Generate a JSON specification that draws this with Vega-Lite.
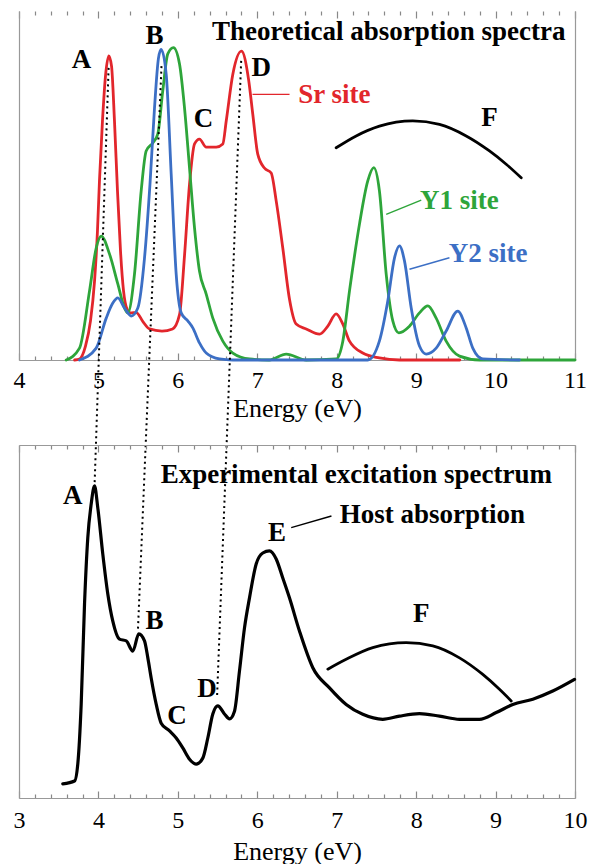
{
  "$schema": "https://vega.github.io/schema/vega-lite/v6.json",
  "background": "white",
  "padding": {"left": 13, "top": 10, "right": 5, "bottom": 0},
  "bounds": "flush",
  "spacing": 85,
  "config": {
    "view": {"stroke": null},
    "axis": {"grid": false, "domainColor": "#999999", "tickColor": "#888888", "tickWidth": 1.2, "domainWidth": 1.2, "labelFont": "Liberation Serif", "titleFont": "Liberation Serif", "labelColor": "#000000", "titleColor": "#000000"},
    "text": {"font": "Liberation Serif"}
  },
  "datasets": {
    "theory": [
      {"site": "Sr", "e": 4.70, "v": 0}, {"site": "Sr", "e": 4.762, "v": 0.3}, {"site": "Sr", "e": 4.837, "v": 4.0}, {"site": "Sr", "e": 4.900, "v": 11.2}, {"site": "Sr", "e": 4.951, "v": 22.6}, {"site": "Sr", "e": 4.988, "v": 37.0}, {"site": "Sr", "e": 5.013, "v": 51.3}, {"site": "Sr", "e": 5.051, "v": 68.5}, {"site": "Sr", "e": 5.089, "v": 81.4}, {"site": "Sr", "e": 5.131, "v": 87.1}, {"site": "Sr", "e": 5.165, "v": 84.2}, {"site": "Sr", "e": 5.202, "v": 68.5}, {"site": "Sr", "e": 5.240, "v": 48.4}, {"site": "Sr", "e": 5.278, "v": 31.2}, {"site": "Sr", "e": 5.316, "v": 19.8}, {"site": "Sr", "e": 5.360, "v": 14.6}, {"site": "Sr", "e": 5.404, "v": 13.5}, {"site": "Sr", "e": 5.476, "v": 13.6}, {"site": "Sr", "e": 5.560, "v": 11.0}, {"site": "Sr", "e": 5.643, "v": 8.9}, {"site": "Sr", "e": 5.800, "v": 8.3}, {"site": "Sr", "e": 5.933, "v": 8.9}, {"site": "Sr", "e": 6.021, "v": 13.0}, {"site": "Sr", "e": 6.084, "v": 30.0}, {"site": "Sr", "e": 6.147, "v": 50.4}, {"site": "Sr", "e": 6.210, "v": 61.9}, {"site": "Sr", "e": 6.272, "v": 63.3}, {"site": "Sr", "e": 6.357, "v": 61.0}, {"site": "Sr", "e": 6.483, "v": 61.0}, {"site": "Sr", "e": 6.566, "v": 61.9}, {"site": "Sr", "e": 6.609, "v": 68.5}, {"site": "Sr", "e": 6.692, "v": 81.9}, {"site": "Sr", "e": 6.801, "v": 88.5}, {"site": "Sr", "e": 6.890, "v": 80.4}, {"site": "Sr", "e": 6.943, "v": 70.5}, {"site": "Sr", "e": 7.006, "v": 59.0}, {"site": "Sr", "e": 7.090, "v": 55.0}, {"site": "Sr", "e": 7.175, "v": 53.6}, {"site": "Sr", "e": 7.238, "v": 45.6}, {"site": "Sr", "e": 7.321, "v": 32.1}, {"site": "Sr", "e": 7.405, "v": 17.5}, {"site": "Sr", "e": 7.490, "v": 10.3}, {"site": "Sr", "e": 7.616, "v": 8.9}, {"site": "Sr", "e": 7.784, "v": 7.4}, {"site": "Sr", "e": 7.888, "v": 9.7}, {"site": "Sr", "e": 7.993, "v": 13.2}, {"site": "Sr", "e": 8.077, "v": 10.3}, {"site": "Sr", "e": 8.161, "v": 5.4}, {"site": "Sr", "e": 8.328, "v": 2.0}, {"site": "Sr", "e": 8.537, "v": 0.6}, {"site": "Sr", "e": 8.79, "v": 0}, {"site": "Sr", "e": 9.55, "v": 0},
      {"site": "Y1", "e": 4.594, "v": 0}, {"site": "Y1", "e": 4.762, "v": 3.4}, {"site": "Y1", "e": 4.888, "v": 19.8}, {"site": "Y1", "e": 4.972, "v": 32.1}, {"site": "Y1", "e": 5.035, "v": 35.5}, {"site": "Y1", "e": 5.139, "v": 30.4}, {"site": "Y1", "e": 5.244, "v": 21.8}, {"site": "Y1", "e": 5.328, "v": 14.9}, {"site": "Y1", "e": 5.370, "v": 13.5}, {"site": "Y1", "e": 5.454, "v": 24.6}, {"site": "Y1", "e": 5.538, "v": 48.4}, {"site": "Y1", "e": 5.601, "v": 59.9}, {"site": "Y1", "e": 5.684, "v": 62.2}, {"site": "Y1", "e": 5.747, "v": 64.7}, {"site": "Y1", "e": 5.810, "v": 77.1}, {"site": "Y1", "e": 5.873, "v": 87.7}, {"site": "Y1", "e": 5.945, "v": 89.5}, {"site": "Y1", "e": 6.021, "v": 84.8}, {"site": "Y1", "e": 6.084, "v": 72.2}, {"site": "Y1", "e": 6.147, "v": 55.0}, {"site": "Y1", "e": 6.210, "v": 37.8}, {"site": "Y1", "e": 6.272, "v": 25.5}, {"site": "Y1", "e": 6.357, "v": 18.9}, {"site": "Y1", "e": 6.440, "v": 12.0}, {"site": "Y1", "e": 6.566, "v": 5.4}, {"site": "Y1", "e": 6.692, "v": 2.0}, {"site": "Y1", "e": 6.902, "v": 0.3}, {"site": "Y1", "e": 7.15, "v": 0}, {"site": "Y1", "e": 7.364, "v": 1.7}, {"site": "Y1", "e": 7.616, "v": 0}, {"site": "Y1", "e": 7.993, "v": 0.3}, {"site": "Y1", "e": 8.077, "v": 5.4}, {"site": "Y1", "e": 8.161, "v": 19.8}, {"site": "Y1", "e": 8.287, "v": 39.0}, {"site": "Y1", "e": 8.391, "v": 51.3}, {"site": "Y1", "e": 8.467, "v": 55.1}, {"site": "Y1", "e": 8.538, "v": 48.4}, {"site": "Y1", "e": 8.623, "v": 24.6}, {"site": "Y1", "e": 8.706, "v": 11.2}, {"site": "Y1", "e": 8.782, "v": 7.8}, {"site": "Y1", "e": 8.916, "v": 9.7}, {"site": "Y1", "e": 9.042, "v": 13.5}, {"site": "Y1", "e": 9.147, "v": 15.5}, {"site": "Y1", "e": 9.252, "v": 12.0}, {"site": "Y1", "e": 9.378, "v": 5.4}, {"site": "Y1", "e": 9.546, "v": 1.1}, {"site": "Y1", "e": 9.8, "v": 0}, {"site": "Y1", "e": 11, "v": 0},
      {"site": "Y2", "e": 4.762, "v": 0}, {"site": "Y2", "e": 4.972, "v": 3.4}, {"site": "Y2", "e": 5.098, "v": 12.0}, {"site": "Y2", "e": 5.181, "v": 16.3}, {"site": "Y2", "e": 5.244, "v": 17.8}, {"site": "Y2", "e": 5.328, "v": 14.9}, {"site": "Y2", "e": 5.413, "v": 12.6}, {"site": "Y2", "e": 5.496, "v": 14.9}, {"site": "Y2", "e": 5.580, "v": 29.2}, {"site": "Y2", "e": 5.649, "v": 50.4}, {"site": "Y2", "e": 5.706, "v": 72.2}, {"site": "Y2", "e": 5.756, "v": 86.5}, {"site": "Y2", "e": 5.790, "v": 89.0}, {"site": "Y2", "e": 5.853, "v": 81.9}, {"site": "Y2", "e": 5.916, "v": 53.3}, {"site": "Y2", "e": 5.979, "v": 24.6}, {"site": "Y2", "e": 6.042, "v": 13.5}, {"site": "Y2", "e": 6.125, "v": 11.2}, {"site": "Y2", "e": 6.188, "v": 9.2}, {"site": "Y2", "e": 6.272, "v": 4.9}, {"site": "Y2", "e": 6.357, "v": 2.0}, {"site": "Y2", "e": 6.524, "v": 0.3}, {"site": "Y2", "e": 6.692, "v": 0}, {"site": "Y2", "e": 8.391, "v": 0}, {"site": "Y2", "e": 8.537, "v": 5.4}, {"site": "Y2", "e": 8.643, "v": 16.9}, {"site": "Y2", "e": 8.727, "v": 29.2}, {"site": "Y2", "e": 8.790, "v": 32.7}, {"site": "Y2", "e": 8.853, "v": 28.4}, {"site": "Y2", "e": 8.938, "v": 14.9}, {"site": "Y2", "e": 9.042, "v": 4.0}, {"site": "Y2", "e": 9.126, "v": 1.7}, {"site": "Y2", "e": 9.252, "v": 3.4}, {"site": "Y2", "e": 9.378, "v": 8.3}, {"site": "Y2", "e": 9.524, "v": 14.0}, {"site": "Y2", "e": 9.630, "v": 9.2}, {"site": "Y2", "e": 9.713, "v": 3.4}, {"site": "Y2", "e": 9.839, "v": 0.3}, {"site": "Y2", "e": 10.30, "v": 0}
    ],
    "arcTop": [
      {"e": 7.993, "v": 60.8}, {"e": 8.245, "v": 64.2}, {"e": 8.538, "v": 67.0}, {"e": 8.958, "v": 68.5}, {"e": 9.294, "v": 67.5}, {"e": 9.630, "v": 64.2}, {"e": 9.923, "v": 59.9}, {"e": 10.134, "v": 56.1}, {"e": 10.323, "v": 52.2}
    ],
    "ptrTop": [
      {"site": "Sr", "e1": 6.940, "v1": 76.1, "e2": 7.406, "v2": 76.1},
      {"site": "Y1", "e1": 8.623, "v1": 41.7, "e2": 9.064, "v2": 45.8},
      {"site": "Y2", "e1": 8.916, "v1": 26.0, "e2": 9.419, "v2": 29.3}
    ],
    "dash": [
      {"e1": 5.128, "v1": 83.7, "e2": 4.951, "v2": -36.1},
      {"e1": 5.794, "v1": 84.2, "e2": 5.498, "v2": -77.1},
      {"e1": 6.797, "v1": 85.7, "e2": 6.493, "v2": -96.8}
    ],
    "txtTop": [
      {"t": "A", "e": 4.787, "v": 85.9}, {"t": "B", "e": 5.706, "v": 92.8}, {"t": "C", "e": 6.323, "v": 69.0}, {"t": "D", "e": 7.049, "v": 83.7}, {"t": "F", "e": 9.923, "v": 69.2}, {"t": "Theoretical absorption spectra", "e": 8.656, "v": 94.1}
    ],
    "siteTxt": [
      {"site": "Sr", "t": "Sr site", "e": 7.515, "v": 75.9},
      {"site": "Y1", "t": "Y1 site", "e": 9.05, "v": 45.6},
      {"site": "Y2", "t": "Y2 site", "e": 9.41, "v": 30.5}
    ],
    "expt": [
      {"e": 3.551, "v": 4.0}, {"e": 3.699, "v": 4.8}, {"e": 3.740, "v": 9.6}, {"e": 3.783, "v": 26.6}, {"e": 3.825, "v": 55.0}, {"e": 3.866, "v": 73.7}, {"e": 3.909, "v": 83.3}, {"e": 3.951, "v": 88.4}, {"e": 3.992, "v": 82.2}, {"e": 4.055, "v": 69.1}, {"e": 4.118, "v": 57.8}, {"e": 4.181, "v": 50.1}, {"e": 4.265, "v": 45.0}, {"e": 4.350, "v": 44.5}, {"e": 4.433, "v": 41.6}, {"e": 4.508, "v": 46.5}, {"e": 4.580, "v": 44.5}, {"e": 4.622, "v": 39.7}, {"e": 4.664, "v": 34.0}, {"e": 4.727, "v": 26.6}, {"e": 4.790, "v": 21.2}, {"e": 4.895, "v": 19.0}, {"e": 4.979, "v": 17.0}, {"e": 5.062, "v": 14.2}, {"e": 5.147, "v": 11.0}, {"e": 5.231, "v": 9.6}, {"e": 5.314, "v": 11.3}, {"e": 5.377, "v": 17.0}, {"e": 5.440, "v": 23.8}, {"e": 5.503, "v": 26.1}, {"e": 5.587, "v": 23.8}, {"e": 5.650, "v": 22.4}, {"e": 5.713, "v": 24.6}, {"e": 5.776, "v": 36.0}, {"e": 5.839, "v": 48.2}, {"e": 5.902, "v": 56.7}, {"e": 5.986, "v": 66.3}, {"e": 6.069, "v": 69.4}, {"e": 6.153, "v": 70.0}, {"e": 6.238, "v": 67.7}, {"e": 6.321, "v": 62.3}, {"e": 6.405, "v": 56.7}, {"e": 6.531, "v": 47.3}, {"e": 6.699, "v": 36.9}, {"e": 6.909, "v": 31.2}, {"e": 7.119, "v": 26.5}, {"e": 7.328, "v": 23.7}, {"e": 7.580, "v": 22.3}, {"e": 7.790, "v": 23.2}, {"e": 8.042, "v": 23.9}, {"e": 8.294, "v": 23.2}, {"e": 8.546, "v": 22.3}, {"e": 8.797, "v": 22.3}, {"e": 9.008, "v": 24.2}, {"e": 9.217, "v": 26.5}, {"e": 9.469, "v": 28.0}, {"e": 9.720, "v": 30.3}, {"e": 9.994, "v": 33.6}
    ],
    "arcBot": [
      {"e": 6.888, "v": 36.5}, {"e": 7.119, "v": 39.3}, {"e": 7.454, "v": 42.6}, {"e": 7.875, "v": 44.0}, {"e": 8.210, "v": 43.1}, {"e": 8.546, "v": 39.7}, {"e": 8.839, "v": 35.0}, {"e": 9.049, "v": 30.8}, {"e": 9.197, "v": 27.5}
    ],
    "ptrBot": [
      {"e1": 6.427, "v1": 76.6, "e2": 6.934, "v2": 79.9}
    ],
    "txtBot": [
      {"t": "A", "e": 3.677, "v": 85.6}, {"t": "B", "e": 4.706, "v": 50.1}, {"t": "C", "e": 4.989, "v": 23.1}, {"t": "D", "e": 5.367, "v": 30.8}, {"t": "E", "e": 6.248, "v": 75.2}, {"t": "F", "e": 8.064, "v": 52.0}, {"t": "Experimental excitation spectrum", "e": 7.247, "v": 91.5}
    ],
    "txtBotLeft": [
      {"t": "Host absorption", "e": 7.039, "v": 80.2}
    ]
  },
  "vconcat": [
    {
      "width": 556,
      "height": 349,
      "resolve": {"axis": {"x": "independent", "y": "independent"}},
      "layer": [
        {
          "data": {"name": "theory"},
          "mark": {"type": "line", "strokeWidth": 2.8, "interpolate": "monotone", "strokeCap": "round", "strokeJoin": "round"},
          "encoding": {
            "x": {"field": "e", "type": "quantitative", "scale": {"domain": [4, 11], "nice": false, "zero": false},
              "axis": {"orient": "bottom", "values": [4,4.2,4.4,4.6,4.8,5,5.2,5.4,5.6,5.8,6,6.2,6.4,6.6,6.8,7,7.2,7.4,7.6,7.8,8,8.2,8.4,8.6,8.8,9,9.2,9.4,9.6,9.8,10,10.2,10.4,10.6,10.8,11],
                "labelExpr": "abs(datum.value - round(datum.value)) < 0.01 ? format(datum.value, 'd') : ''",
                "tickSize": {"condition": {"test": "abs(datum.value - round(datum.value)) < 0.01", "value": -7}, "value": -4},
                "labelFontSize": 24, "labelBaseline": "middle", "labelPadding": 27.5, "labelFlush": false, "labelOverlap": false, "labelBound": false,
                "title": "Energy (eV)", "titleFontSize": 26, "titleFontWeight": "normal", "titleBaseline": "middle", "titleY": 48, "domain": true}},
            "y": {"field": "v", "type": "quantitative", "scale": {"domain": [0, 100], "nice": false, "zero": false},
              "axis": {"orient": "left", "ticks": false, "labels": false, "title": null, "domain": true}},
            "color": {"field": "site", "type": "nominal", "scale": {"domain": ["Sr", "Y1", "Y2"], "range": ["#e2262c", "#2ea53a", "#3c6fc5"]}, "legend": null}
          }
        },
        {
          "data": {"name": "arcTop"},
          "mark": {"type": "line", "strokeWidth": 2.8, "interpolate": "monotone", "color": "#000000", "strokeCap": "round"},
          "encoding": {
            "x": {"field": "e", "type": "quantitative",
              "axis": {"orient": "top", "values": [4,4.2,4.4,4.6,4.8,5,5.2,5.4,5.6,5.8,6,6.2,6.4,6.6,6.8,7,7.2,7.4,7.6,7.8,8,8.2,8.4,8.6,8.8,9,9.2,9.4,9.6,9.8,10,10.2,10.4,10.6,10.8,11],
                "labels": false, "title": null, "domain": false,
                "tickSize": {"condition": {"test": "abs(datum.value - round(datum.value)) < 0.01", "value": -7}, "value": -4}}},
            "y": {"field": "v", "type": "quantitative",
              "axis": {"orient": "right", "ticks": false, "labels": false, "title": null, "domain": true}}
          }
        },
        {
          "data": {"name": "ptrTop"},
          "mark": {"type": "rule", "strokeWidth": 1.4},
          "encoding": {
            "x": {"field": "e1", "type": "quantitative", "axis": null},
            "x2": {"field": "e2"},
            "y": {"field": "v1", "type": "quantitative", "axis": null},
            "y2": {"field": "v2"},
            "color": {"field": "site", "type": "nominal", "legend": null}
          }
        },
        {
          "data": {"name": "dash"},
          "mark": {"type": "rule", "strokeWidth": 2, "strokeDash": [2, 3.5], "color": "#000000"},
          "encoding": {
            "x": {"field": "e1", "type": "quantitative", "axis": null},
            "x2": {"field": "e2"},
            "y": {"field": "v1", "type": "quantitative", "axis": null},
            "y2": {"field": "v2"}
          }
        },
        {
          "data": {"name": "txtTop"},
          "mark": {"type": "text", "fontWeight": "bold", "fontSize": 27, "align": "center", "baseline": "middle", "color": "#000000"},
          "encoding": {
            "x": {"field": "e", "type": "quantitative", "axis": null},
            "y": {"field": "v", "type": "quantitative", "axis": null},
            "text": {"field": "t"}
          }
        },
        {
          "data": {"name": "siteTxt"},
          "mark": {"type": "text", "fontWeight": "bold", "fontSize": 27, "align": "left", "baseline": "middle"},
          "encoding": {
            "x": {"field": "e", "type": "quantitative", "axis": null},
            "y": {"field": "v", "type": "quantitative", "axis": null},
            "text": {"field": "t"},
            "color": {"field": "site", "type": "nominal", "legend": null}
          }
        }
      ]
    },
    {
      "width": 556,
      "height": 353,
      "resolve": {"axis": {"x": "independent", "y": "independent"}},
      "layer": [
        {
          "data": {"name": "expt"},
          "mark": {"type": "line", "strokeWidth": 3.2, "interpolate": "monotone", "color": "#000000", "strokeCap": "round", "strokeJoin": "round"},
          "encoding": {
            "x": {"field": "e", "type": "quantitative", "scale": {"domain": [3, 10], "nice": false, "zero": false},
              "axis": {"orient": "bottom", "values": [3,3.2,3.4,3.6,3.8,4,4.2,4.4,4.6,4.8,5,5.2,5.4,5.6,5.8,6,6.2,6.4,6.6,6.8,7,7.2,7.4,7.6,7.8,8,8.2,8.4,8.6,8.8,9,9.2,9.4,9.6,9.8,10],
                "labelExpr": "abs(datum.value - round(datum.value)) < 0.01 ? format(datum.value, 'd') : ''",
                "tickSize": {"condition": {"test": "abs(datum.value - round(datum.value)) < 0.01", "value": -7}, "value": -4},
                "labelFontSize": 24, "labelBaseline": "middle", "labelPadding": 29.5, "labelFlush": false, "labelOverlap": false, "labelBound": false,
                "title": "Energy (eV)", "titleFontSize": 26, "titleFontWeight": "normal", "titleBaseline": "middle", "titleY": 53, "domain": true}},
            "y": {"field": "v", "type": "quantitative", "scale": {"domain": [0, 100], "nice": false, "zero": false},
              "axis": {"orient": "left", "ticks": false, "labels": false, "title": null, "domain": true}}
          }
        },
        {
          "data": {"name": "arcBot"},
          "mark": {"type": "line", "strokeWidth": 2.8, "interpolate": "monotone", "color": "#000000", "strokeCap": "round"},
          "encoding": {
            "x": {"field": "e", "type": "quantitative",
              "axis": {"orient": "top", "values": [3,3.2,3.4,3.6,3.8,4,4.2,4.4,4.6,4.8,5,5.2,5.4,5.6,5.8,6,6.2,6.4,6.6,6.8,7,7.2,7.4,7.6,7.8,8,8.2,8.4,8.6,8.8,9,9.2,9.4,9.6,9.8,10],
                "labels": false, "title": null, "domain": true,
                "tickSize": {"condition": {"test": "abs(datum.value - round(datum.value)) < 0.01", "value": -7}, "value": -4}}},
            "y": {"field": "v", "type": "quantitative",
              "axis": {"orient": "right", "ticks": false, "labels": false, "title": null, "domain": true}}
          }
        },
        {
          "data": {"name": "ptrBot"},
          "mark": {"type": "rule", "strokeWidth": 1.4, "color": "#000000"},
          "encoding": {
            "x": {"field": "e1", "type": "quantitative", "axis": null},
            "x2": {"field": "e2"},
            "y": {"field": "v1", "type": "quantitative", "axis": null},
            "y2": {"field": "v2"}
          }
        },
        {
          "data": {"name": "txtBot"},
          "mark": {"type": "text", "fontWeight": "bold", "fontSize": 27, "align": "center", "baseline": "middle", "color": "#000000"},
          "encoding": {
            "x": {"field": "e", "type": "quantitative", "axis": null},
            "y": {"field": "v", "type": "quantitative", "axis": null},
            "text": {"field": "t"}
          }
        },
        {
          "data": {"name": "txtBotLeft"},
          "mark": {"type": "text", "fontWeight": "bold", "fontSize": 27, "align": "left", "baseline": "middle", "color": "#000000"},
          "encoding": {
            "x": {"field": "e", "type": "quantitative", "axis": null},
            "y": {"field": "v", "type": "quantitative", "axis": null},
            "text": {"field": "t"}
          }
        }
      ]
    }
  ]
}
